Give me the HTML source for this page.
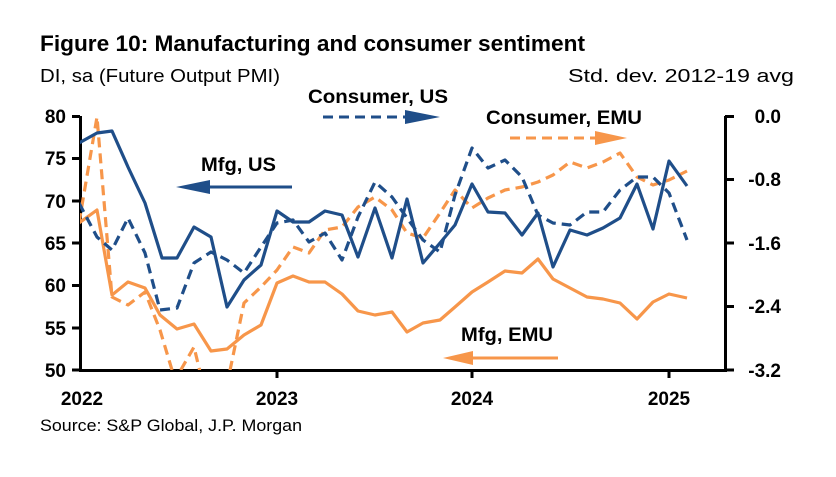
<!DOCTYPE html><html><head><style>body{margin:0;background:#fff}svg{font-family:"Liberation Sans",Arial,sans-serif}</style></head><body>
<svg width="836" height="472" viewBox="0 0 836 472" xmlns="http://www.w3.org/2000/svg">
<text x="40" y="51" font-size="22" font-weight="bold" textLength="545" lengthAdjust="spacingAndGlyphs">Figure 10: Manufacturing and consumer sentiment</text>
<text x="40" y="82" font-size="18" textLength="240" lengthAdjust="spacingAndGlyphs">DI, sa (Future Output PMI)</text>
<text x="568" y="82" font-size="18" textLength="226" lengthAdjust="spacingAndGlyphs">Std. dev. 2012-19 avg</text>
<g stroke="#000" stroke-width="3" fill="none">
<path d="M80.5 116V370.5H725.5V116"/>
<path d="M72 116.5H80M72 158.5H80M72 201H80M72 243H80M72 285.5H80M72 328H80M72 370H80"/>
<path d="M725 116.5H734M725 179.5H734M725 243H734M725 306.5H734M725 370H734"/>
<path d="M277 370V378M472 370V378M669 370V378"/>
</g>
<g font-size="19" font-weight="bold" text-anchor="end">
<text x="66" y="123">80</text><text x="66" y="165">75</text><text x="66" y="208">70</text><text x="66" y="250">65</text><text x="66" y="292">60</text><text x="66" y="335">55</text><text x="66" y="377">50</text>
</g>
<g font-size="19" font-weight="bold" text-anchor="end">
<text x="781" y="123">0.0</text><text x="781" y="186">-0.8</text><text x="781" y="250">-1.6</text><text x="781" y="313">-2.4</text><text x="781" y="377">-3.2</text>
</g>
<g font-size="19" font-weight="bold" text-anchor="middle">
<text x="82" y="405">2022</text><text x="277" y="405">2023</text><text x="472" y="405">2024</text><text x="669" y="405">2025</text>
</g>
<text x="40" y="431" font-size="17" textLength="262" lengthAdjust="spacingAndGlyphs">Source: S&amp;P Global, J.P. Morgan</text>
<defs><clipPath id="c"><rect x="80" y="100" width="650" height="270"/></clipPath></defs>
<g fill="none" stroke-width="3.2" stroke-linejoin="round" clip-path="url(#c)">
<polyline stroke="#f7964a" points="79,223 97,210 112,295 128,282 145,288 160,315 177,329 194,324 211,351 227,349 244,335 261,325 277,283 293,276 309,282 325,282 342,294 358,311 375,315 392,312 407,332 423,323 440,320 455,307 472,292 488,282 505,271 522,273 538,259 553,279 570,288 587,297 603,299 620,303 637,319 653,302 669,294 687,298"/>
<polyline stroke="#f7964a" stroke-dasharray="10,6" points="79,223 97,117 112,297 128,305 145,292 160,330 175,380 194,347 202,380 228,380 244,303 261,287 277,270 293,247 309,253 325,230 342,227 358,207 375,197 392,210 407,233 423,238 440,213 455,190 472,208 488,198 505,190 522,187 538,182 553,175 570,162 587,168 603,162 620,153 637,177 653,185 669,180 687,171"/>
<polyline stroke="#1f4e89" stroke-dasharray="10,6" points="79,203 97,237 112,250 128,218 145,253 160,310 177,308 194,263 211,252 227,260 244,273 261,247 277,223 293,220 309,242 325,233 342,260 358,217 375,182 392,197 407,218 423,240 440,252 455,195 472,148 488,168 505,160 522,177 538,215 553,223 570,225 587,212 603,212 620,190 637,177 653,177 669,193 687,240"/>
<polyline stroke="#1f4e89" points="79,143 97,133 112,131 128,167 145,203 162,258 177,258 194,227 211,237 227,307 244,280 261,265 277,211 293,222 309,222 325,211 342,215 358,257 375,208 392,258 407,199 423,263 440,243 455,225 472,184 488,212 505,213 522,235 538,213 553,267 570,230 587,235 603,228 620,218 637,184 653,229 669,161 687,186"/>
</g>
<g font-size="19" font-weight="bold">
<text x="201" y="171" textLength="75" lengthAdjust="spacingAndGlyphs">Mfg, US</text>
<text x="308" y="103" textLength="140" lengthAdjust="spacingAndGlyphs">Consumer, US</text>
<text x="486" y="124" textLength="156" lengthAdjust="spacingAndGlyphs">Consumer, EMU</text>
<text x="461" y="341" textLength="92" lengthAdjust="spacingAndGlyphs">Mfg, EMU</text>
</g>
<path d="M210 187H292" stroke="#1f4e89" stroke-width="3"/><path d="M176 187L210 180V194Z" fill="#1f4e89"/>
<path d="M323 117H405" stroke="#1f4e89" stroke-width="3" stroke-dasharray="10,6"/><path d="M440 117L405 110V124Z" fill="#1f4e89"/>
<path d="M510 138H595" stroke="#f7964a" stroke-width="3" stroke-dasharray="10,6"/><path d="M627 138L595 131V145Z" fill="#f7964a"/>
<path d="M470 358H558" stroke="#f7964a" stroke-width="3"/><path d="M443 358L473 351V365Z" fill="#f7964a"/>
</svg></body></html>
